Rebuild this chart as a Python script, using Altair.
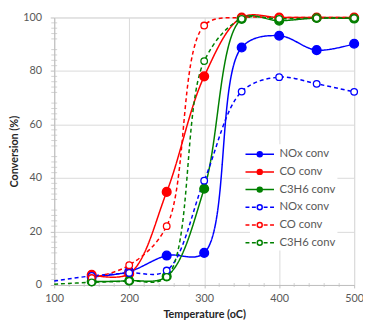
import altair as alt
import pandas as pd

# ---- data ----
temps = [150, 200, 250, 300, 350, 400, 450, 500]
nox_conv = [3.0, 5.0, 11.0, 12.0, 88.8, 93.2, 87.8, 90.2]
co_conv = [3.8, 4.2, 34.8, 78.0, 100.0, 100.0, 100.0, 100.0]
c3h6_conv = [1.3, 1.6, 3.2, 36.0, 99.5, 98.8, 99.8, 99.6]

temps_nox_d = [100, 150, 200, 250, 300, 350, 400, 450, 500]
nox_conv_d = [1.5, 3.4, 4.5, 5.4, 39.0, 72.3, 77.7, 75.2, 72.2]
temps_co_d = [150, 200, 250, 300, 350, 400, 450, 500]
co_conv_d = [2.6, 7.4, 22.0, 97.0, 100.0, 100.0, 100.0, 100.0]
temps_c3h6_d = [100, 150, 200, 250, 300, 350, 400, 450, 500]
c3h6_conv_d = [0.3, 1.0, 1.5, 3.0, 83.7, 99.5, 99.5, 99.8, 99.8]

series = ["NOx conv", "CO conv", "C3H6 conv", "NOx conv_d", "CO conv_d", "C3H6 conv_d"]
colors = ["#0000ff", "#ff0000", "#008000", "#0000ff", "#ff0000", "#008000"]
fills = ["#0000ff", "#ff0000", "#008000", "#ffffff", "#ffffff", "#ffffff"]

x_ticks = [100, 200, 300, 400, 500]
y_ticks = [0, 10, 20, 30, 40, 50, 60, 70, 80, 90, 100]
x_minor = [120, 140, 160, 180, 220, 240, 260, 280, 320, 340, 360, 380, 420, 440, 460, 480]
y_minor = [v for v in range(2, 100, 2) if v % 10 != 0]

rows = []
for name, xs, ys, dashed in [
    ("NOx conv", temps, nox_conv, False),
    ("CO conv", temps, co_conv, False),
    ("C3H6 conv", temps, c3h6_conv, False),
    ("NOx conv_d", temps_nox_d, nox_conv_d, True),
    ("CO conv_d", temps_co_d, co_conv_d, True),
    ("C3H6 conv_d", temps_c3h6_d, c3h6_conv_d, True),
]:
    for t, v in zip(xs, ys):
        rows.append({"key": name, "T": t, "v": v, "dashed": dashed, "marker": t >= 150})
df = pd.DataFrame(rows)

FONT = "Lato"
LABEL_C = "#595959"

# legend symbols: line with a small circle in the middle (unit = 7px)
circle = "M0.36,0A0.36,0.36,0,1,1,-0.36,0A0.36,0.36,0,1,1,0.36,0Z"
solid_path = "M-2.07,0L-0.4,0M0.4,0L2.07,0" + circle
dash_path = "M-2.07,0L-1.5,0M-1.14,0L-0.57,0M0.57,0L1.14,0M1.5,0L2.07,0" + circle
shapes = [solid_path] * 3 + [dash_path] * 3

legend = alt.Legend(
    title=None,
    orient="none",
    legendX=199,
    legendY=129,
    symbolSize=196,
    symbolStrokeWidth=1.5,
    symbolOpacity=1,
    labelExpr="replace(datum.value, '_d', '')",
    labelFont=FONT,
    labelFontSize=11.5,
    labelColor=LABEL_C,
    labelOffset=12,
    rowPadding=4,
    fillColor="white",
    padding=2,
)

xscale = alt.Scale(domain=[100, 500], nice=False, zero=False)
yscale = alt.Scale(domain=[0, 100], nice=False)
cscale = alt.Scale(domain=series, range=colors)
fscale = alt.Scale(domain=series, range=fills)

xaxis = alt.Axis(values=x_ticks, title="Temperature (oC)", grid=True, gridColor="#d9d9d9",
                 domainColor="#bfbfbf", tickColor="#bfbfbf", tickSize=3, labelPadding=5,
                 labelFlush=False,
                 labelFont=FONT, labelFontSize=11, labelColor=LABEL_C, titleFont=FONT,
                 titleFontSize=11, titleFontWeight="bold", titleColor="#262626", titlePadding=5)
yaxis = alt.Axis(values=y_ticks, title="Conversion (%)", grid=True, gridColor="#d9d9d9",
                 domainColor="#bfbfbf", tickColor="#bfbfbf", tickSize=4, labelPadding=9,
                 labelFont=FONT, labelFontSize=11, labelColor=LABEL_C, titleFont=FONT,
                 titleFontSize=11, titleFontWeight="bold", titleColor="#262626", titlePadding=3)

base = alt.Chart(df)

lines = base.mark_line(interpolate="catmull-rom", strokeWidth=1.5).encode(
    x=alt.X("T:Q", scale=xscale, axis=xaxis),
    y=alt.Y("v:Q", scale=yscale, axis=yaxis),
    color=alt.Color("key:N", scale=cscale, legend=legend),
    strokeDash=alt.StrokeDash("dashed:N", scale=alt.Scale(domain=[False, True], range=[[1, 0], [4, 3]]), legend=None),
    detail="key:N",
)

points = base.transform_filter("datum.marker").mark_point(filled=False, strokeWidth=1.3, opacity=1).encode(
    x="T:Q",
    y="v:Q",
    color=alt.Color("key:N", scale=cscale, legend=legend),
    fill=alt.Fill("key:N", scale=fscale, legend=legend),
    size=alt.Size("dashed:N", scale=alt.Scale(domain=[False, True], range=[80, 45]), legend=None),
)

# legend-only layer: invisible points carrying the shape channel for the legend symbols
legend_layer = base.mark_point(filled=False, opacity=0, strokeWidth=1.5).encode(
    x="T:Q",
    y="v:Q",
    color=alt.Color("key:N", scale=cscale, legend=legend),
    fill=alt.Fill("key:N", scale=fscale, legend=legend),
    shape=alt.Shape("key:N", scale=alt.Scale(domain=series, range=shapes), legend=legend),
)

xm = pd.DataFrame({"T": x_minor, "v": [0] * len(x_minor)})
ym = pd.DataFrame({"T": [100] * len(y_minor), "v": y_minor})
xticks_minor = alt.Chart(xm).mark_tick(orient="vertical", size=4, thickness=1, color="#bfbfbf").encode(x="T:Q", y="v:Q")
yticks_minor = alt.Chart(ym).mark_tick(orient="horizontal", size=6, thickness=1, color="#bfbfbf").encode(x="T:Q", y="v:Q")

chart = alt.layer(xticks_minor, yticks_minor, lines, points, legend_layer).properties(
    width=305, height=272,
    autosize=alt.AutoSizeParams(type="none"),
    padding={"left": 47, "top": 7, "right": 9, "bottom": 37},
).configure_view(stroke=None).configure(background="white")

chart.save("out.html", embed_options={"renderer": "svg", "actions": False})
